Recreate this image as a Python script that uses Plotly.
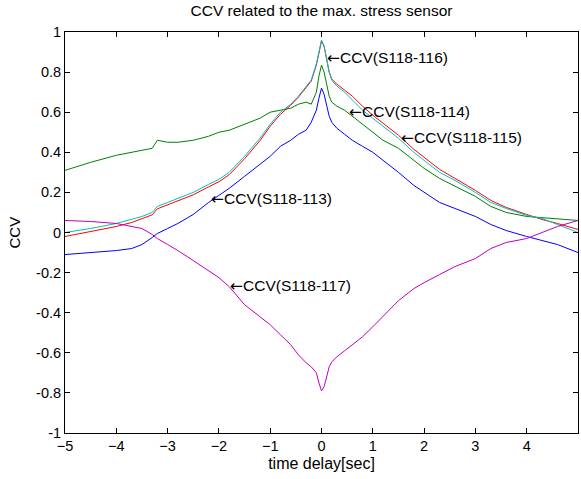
import plotly.graph_objects as go

# time delay grid [sec]
T = [-5, -4.5, -4, -3.7, -3.5, -3.3, -3.2, -3.0, -2.8, -2.5, -2.2, -2.0, -1.8, -1.5, -1.2, -1.0,
     -0.8, -0.6, -0.45, -0.3, -0.2, -0.1, -0.05, 0, 0.05, 0.1, 0.15, 0.2, 0.3, 0.45, 0.6, 0.8,
     1.0, 1.2, 1.5, 1.8, 2.0, 2.3, 2.6, 3.0, 3.3, 3.6, 4.0, 4.3, 4.6, 5.0]

ccv_116 = [0.0, 0.02, 0.045, 0.065, 0.08, 0.10, 0.13, 0.15, 0.17, 0.20, 0.24, 0.265, 0.30, 0.38, 0.47, 0.54,
           0.60, 0.64, 0.68, 0.73, 0.76, 0.84, 0.91, 0.96, 0.93, 0.87, 0.80, 0.76, 0.73, 0.70, 0.66, 0.61,
           0.57, 0.53, 0.47, 0.40, 0.36, 0.30, 0.26, 0.20, 0.15, 0.12, 0.085, 0.07, 0.04, 0.0]
ccv_115 = [-0.02, 0.005, 0.03, 0.05, 0.068, 0.088, 0.118, 0.138, 0.158, 0.188, 0.228, 0.253, 0.288, 0.368, 0.458, 0.53,
           0.59, 0.635, 0.675, 0.725, 0.755, 0.835, 0.905, 0.955, 0.93, 0.87, 0.80, 0.765, 0.74, 0.71, 0.68, 0.63,
           0.585, 0.545, 0.485, 0.415, 0.375, 0.315, 0.27, 0.21, 0.16, 0.125, 0.09, 0.065, 0.045, 0.015]
ccv_114 = [0.31, 0.35, 0.385, 0.40, 0.41, 0.42, 0.46, 0.45, 0.45, 0.46, 0.48, 0.50, 0.51, 0.54, 0.57, 0.60,
           0.61, 0.62, 0.64, 0.65, 0.64, 0.70, 0.78, 0.835, 0.80, 0.74, 0.68, 0.65, 0.63, 0.61, 0.58, 0.54,
           0.50, 0.46, 0.42, 0.36, 0.32, 0.27, 0.23, 0.18, 0.13, 0.10, 0.08, 0.075, 0.07, 0.06]
ccv_113 = [-0.11, -0.10, -0.09, -0.08, -0.06, -0.025, -0.005, 0.02, 0.045, 0.09, 0.15, 0.185, 0.22, 0.28, 0.34, 0.38,
           0.43, 0.46, 0.49, 0.51, 0.55, 0.61, 0.67, 0.72, 0.69, 0.63, 0.58, 0.55, 0.52, 0.49, 0.46, 0.43,
           0.40, 0.36, 0.30, 0.235, 0.20, 0.15, 0.12, 0.08, 0.04, 0.01, -0.02, -0.04, -0.06, -0.10]
ccv_117 = [0.06, 0.055, 0.045, 0.03, 0.02, -0.01, -0.03, -0.06, -0.09, -0.14, -0.19, -0.225, -0.27, -0.36, -0.42, -0.46,
           -0.51, -0.56, -0.61, -0.65, -0.67, -0.70, -0.75, -0.79, -0.77, -0.72, -0.67, -0.645, -0.62, -0.59, -0.56, -0.52,
           -0.47, -0.42, -0.34, -0.28, -0.25, -0.21, -0.17, -0.13, -0.08, -0.05, -0.03, 0.0, 0.03, 0.06]

series = [
    ("CCV(S118-113)", ccv_113, "#0000FF"),
    ("CCV(S118-114)", ccv_114, "#008000"),
    ("CCV(S118-115)", ccv_115, "#FF0000"),
    ("CCV(S118-116)", ccv_116, "#00BFBF"),
    ("CCV(S118-117)", ccv_117, "#BF00BF"),
]

# label anchor points (data coords) for the arrow texts
label_names = ["CCV(S118-116)", "CCV(S118-114)", "CCV(S118-115)", "CCV(S118-113)", "CCV(S118-117)"]
label_x = [0.10, 0.53, 1.55, -2.15, -1.78]
label_y = [0.87, 0.60, 0.47, 0.167, -0.267]

x_ticks = [-5, -4, -3, -2, -1, 0, 1, 2, 3, 4, 5]
y_ticks = [-1, -0.8, -0.6, -0.4, -0.2, 0, 0.2, 0.4, 0.6, 0.8, 1]
y_tick_text = ["-1", "-0.8", "-0.6", "-0.4", "-0.2", "0", "0.2", "0.4", "0.6", "0.8", "1"]

FONT = "Liberation Sans, Arial, sans-serif"
ARROW = '<span style="font-family:DejaVu Sans">\u2190</span>'

fig = go.Figure()
for name, vals, col in series:
    fig.add_trace(go.Scatter(x=T, y=vals, mode="lines", name=name,
                             line=dict(color=col, width=1), hoverinfo="skip"))

for name, lx, ly in zip(label_names, label_x, label_y):
    fig.add_annotation(x=lx, y=ly, xref="x", yref="y", text=ARROW + name,
                       showarrow=False, xanchor="left", yanchor="middle",
                       xshift=-2,
                       font=dict(family=FONT, size=15.5, color="#000000"))

# y axis title placed in the left margin
fig.add_annotation(x=(14 - 65) / 513, y=0.5, xref="paper", yref="paper", text="CCV",
                   showarrow=False, textangle=-90, xanchor="center", yanchor="middle",
                   font=dict(family=FONT, size=15, color="#000000"))

axis_common = dict(showline=True, linecolor="#000000", linewidth=1, mirror="ticks",
                   ticks="inside", ticklen=5, tickcolor="#000000", showgrid=False,
                   zeroline=False, automargin=False,
                   tickfont=dict(family=FONT, size=14.5, color="#000000"))

fig.update_layout(
    width=581, height=479,
    margin=dict(l=65, r=3, t=32, b=46),
    paper_bgcolor="#FFFFFF", plot_bgcolor="#FFFFFF",
    showlegend=False,
    hovermode=False,
    title=dict(text="CCV related to the max. stress sensor", x=0.5, xref="paper",
               y=1 - 11 / 479, yanchor="middle",
               font=dict(family=FONT, size=15.5, color="#000000")),
    xaxis=dict(range=[-5, 5], tickvals=x_ticks,
               title=dict(text="time delay[sec]", standoff=4,
                          font=dict(family=FONT, size=16, color="#000000")),
               **axis_common),
    yaxis=dict(range=[-1, 1], tickvals=y_ticks, ticktext=y_tick_text,
               **axis_common),
)

fig.write_html("out.html", config={"displayModeBar": False},
               post_script="document.body.style.margin='0px';document.body.style.padding='0px';")
